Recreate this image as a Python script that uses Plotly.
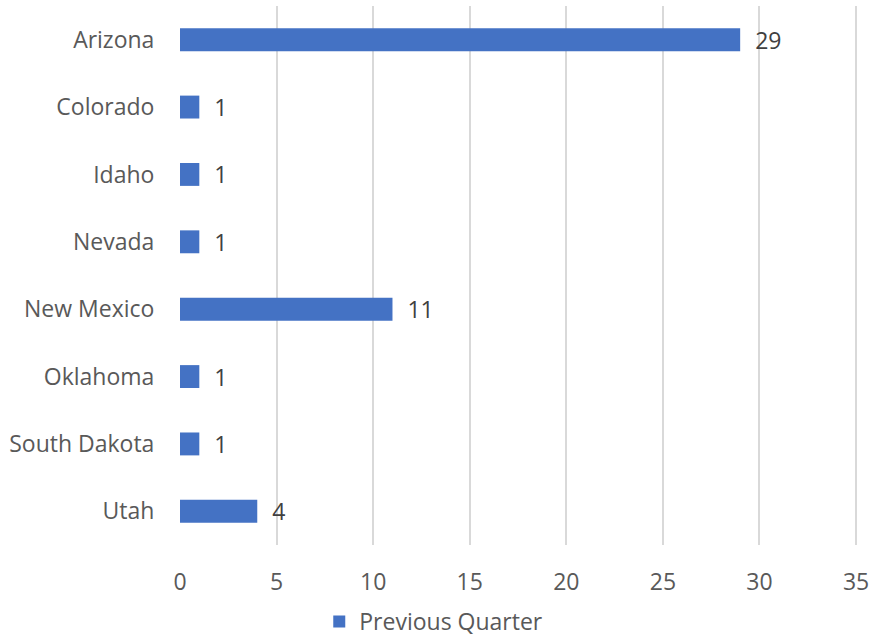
import plotly.graph_objects as go

states = ["Arizona", "Colorado", "Idaho", "Nevada", "New Mexico",
          "Oklahoma", "South Dakota", "Utah"]
previous_quarter = [29, 1, 1, 1, 11, 1, 1, 4]
x_ticks = [0, 5, 10, 15, 20, 25, 30, 35]

fig = go.Figure(go.Bar(
    x=previous_quarter,
    y=states,
    orientation="h",
    name="Previous Quarter",
    marker=dict(color="#4472C4", line=dict(width=0)),
    width=0.34,
    text=previous_quarter,
    texttemplate="  %{text}",
    textposition="outside",
    constraintext="none",
    textfont=dict(size=23, color="#404040"),
    cliponaxis=False,
    showlegend=True,
))

fig.update_layout(
    width=871,
    height=644,
    margin=dict(l=180, r=13, t=6, b=99, autoexpand=False),
    plot_bgcolor="white",
    paper_bgcolor="white",
    font=dict(family="Open Sans, Noto Sans, sans-serif", size=23, color="#595959"),
    legend=dict(
        orientation="h",
        xref="container", yref="container",
        x=0.498, xanchor="center",
        y=0.035, yanchor="middle",
        font=dict(size=23, color="#595959"),
    ),
    xaxis=dict(
        range=[0, 35.1],
        tickvals=x_ticks,
        showgrid=True,
        gridcolor="#D9D9D9",
        gridwidth=1.5,
        zeroline=False,
        showline=False,
        ticks="outside",
        ticklen=16,
        tickcolor="rgba(0,0,0,0)",
        automargin=False,
    ),
    yaxis=dict(
        autorange="reversed",
        showgrid=False,
        showline=False,
        zeroline=False,
        ticks="outside",
        ticklen=20,
        tickcolor="rgba(0,0,0,0)",
        automargin=False,
    ),
)

# drop the default body margin so the figure fills the window exactly
fig.write_html(
    "out.html",
    config={"displayModeBar": False},
    post_script="document.body.style.margin = '0'; document.body.style.overflow = 'hidden';",
)
